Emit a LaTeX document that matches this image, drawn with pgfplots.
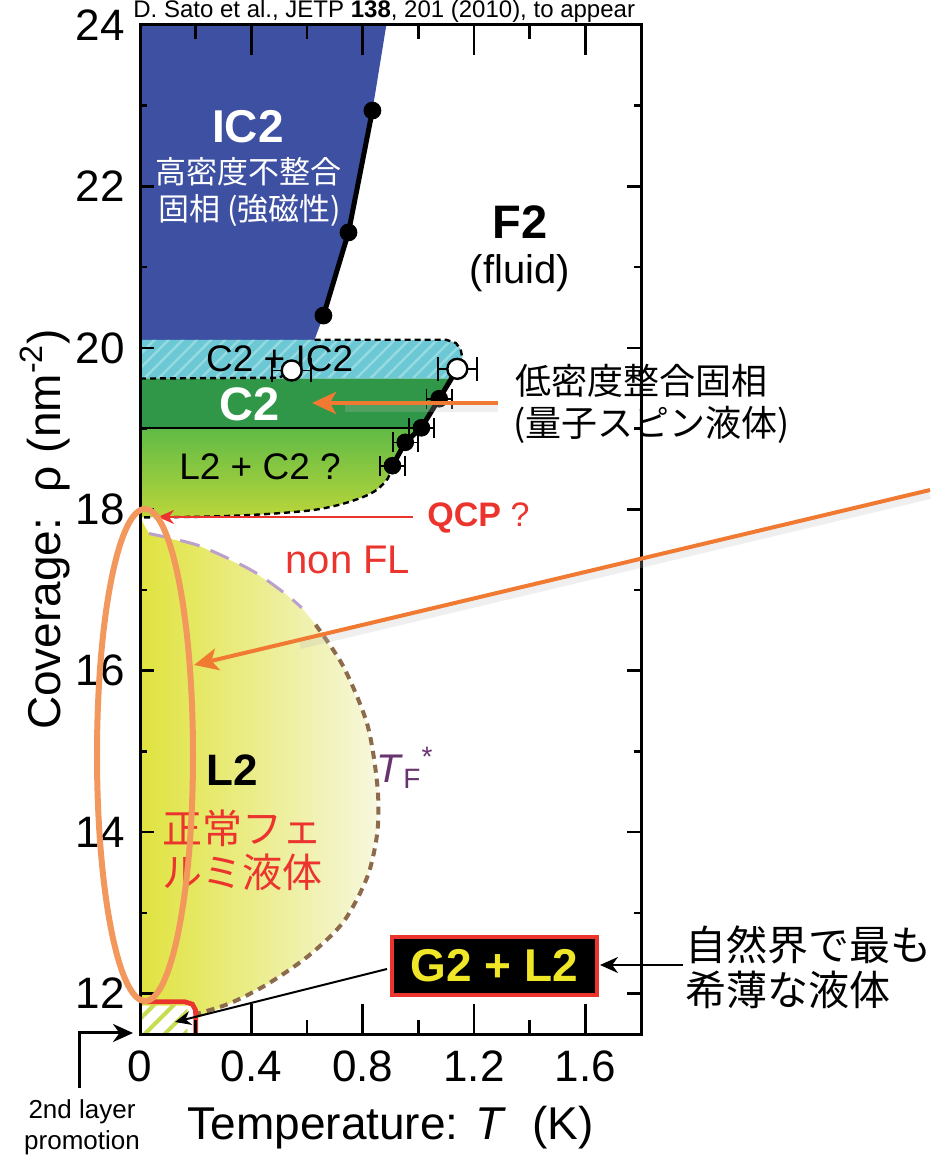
\documentclass[border=0pt]{standalone}
\usepackage{fontspec}
\setmainfont{Liberation Sans}
\newfontfamily\cjk{Noto Sans CJK JP}
\usepackage{pgfplots}
\pgfplotsset{compat=1.18}
\usetikzlibrary{arrows.meta,patterns.meta}

\definecolor{icblue}{RGB}{62,80,162}
\definecolor{cyanph}{RGB}{108,200,212}
\definecolor{cyanln}{RGB}{150,218,226}
\definecolor{ctwo}{RGB}{48,150,72}
\definecolor{lctop}{RGB}{96,186,70}
\definecolor{lcbot}{RGB}{186,214,58}
\definecolor{lyel}{RGB}{224,227,62}
\definecolor{lmid}{RGB}{236,238,150}
\definecolor{lpale}{RGB}{247,247,222}
\definecolor{hatch}{RGB}{200,220,80}
\definecolor{tfbrown}{RGB}{140,106,76}
\definecolor{tfpurp}{RGB}{186,160,202}
\definecolor{tfname}{RGB}{104,52,112}
\definecolor{arrorange}{RGB}{240,122,50}
\definecolor{ellorange}{RGB}{242,152,92}
\definecolor{labred}{RGB}{236,52,46}
\definecolor{gyel}{RGB}{240,230,40}

\newcommand{\fs}[1]{\fontsize{#1}{#1}\selectfont}

\pgfplotsset{
  frame/.style={
    scale only axis, width=250.5pt, height=504.5pt,
    xmin=0, xmax=1.8, ymin=11.5, ymax=24,
    tick align=inside,
    every tick/.style={black, line width=1.3pt},
    /pgf/number format/assume math mode=true,
    ticklabel style={font=\fs{22pt}},
    label style={font=\fs{23pt}},
  },
}

\begin{document}
\begin{tikzpicture}
% main axis: regions, x ticks and x label
\begin{axis}[
  frame,
  xtick={0,0.4,0.8,1.2,1.6}, ytick=\empty,
  minor x tick num=1,
  major tick length=15pt, minor tick length=7pt,
  axis line style={line width=1.5pt},
  axis on top,
  xticklabel style={yshift=-5pt},
  xlabel={Temperature: \textit{T}\ \ (K)},
  xlabel style={at={(axis description cs:0.5,-0.093)}, anchor=center},
]
\coordinate (O) at (rel axis cs:0,0);

% IC2
\addplot[draw=none, fill=icblue] coordinates {(0,20.10) (0.627,20.10) (0.659,20.40) (0.749,21.43) (0.835,22.94) (0.885,24.0) (0,24.0)} --cycle;
% C2 + IC2
\addplot[draw=none, fill=cyanph] coordinates {(0,20.10) (1.10,20.10) (1.135,20.06) (1.152,19.98) (1.158,19.88) (1.14,19.74) (1.115,19.62) (0,19.62)} --cycle;
\addplot[draw=none, pattern={Lines[angle=45,distance=5pt,line width=1.2pt]}, pattern color=cyanln] coordinates {(0,20.10) (1.10,20.10) (1.135,20.06) (1.152,19.98) (1.158,19.88) (1.14,19.74) (1.115,19.62) (0,19.62)} --cycle;
% C2
\addplot[draw=none, fill=ctwo] coordinates {(0,19.62) (1.115,19.62) (1.075,19.37) (1.011,19.01) (0,19.01)} --cycle;
% L2 + C2
\addplot[draw=none, top color=lctop, bottom color=lcbot] coordinates {(0,19.01) (1.011,19.01) (0.953,18.83) (0.907,18.54) (0.89,18.38) (0.85,18.24) (0.80,18.15) (0.72,18.06) (0.62,17.99) (0.45,17.94) (0.25,17.91) (0,17.90)} --cycle;
% L2
\addplot[draw=none, left color=lyel, middle color=lmid, right color=lpale] coordinates {(0,17.90) (0.032,17.70) (0.211,17.55) (0.398,17.25) (0.52,16.96) (0.581,16.78) (0.631,16.57) (0.731,16.05) (0.817,15.33) (0.853,14.57) (0.853,14.01) (0.817,13.45) (0.731,12.89) (0.606,12.47) (0.459,12.12) (0.323,11.88) (0.211,11.70) (0.18,11.85) (0,11.85)} --cycle;
% G2 + L2
\addplot[draw=none, fill=white] coordinates {(0,11.5) (0.17,11.5) (0.17,11.85) (0,11.85)} --cycle;
\addplot[draw=none, pattern={Lines[angle=45,distance=7pt,line width=2pt]}, pattern color=hatch] coordinates {(0,11.5) (0.17,11.5) (0.17,11.85) (0,11.85)} --cycle;

% boundaries
\addplot[tfpurp, line width=1.5pt, dash pattern=on 10pt off 6pt, smooth] coordinates {(0.032,17.70) (0.211,17.55) (0.398,17.25) (0.52,16.96) (0.581,16.78)};
\addplot[tfbrown, line width=2pt, dash pattern=on 4pt off 3pt, smooth] coordinates {(0.631,16.57) (0.731,16.05) (0.817,15.33) (0.853,14.57) (0.853,14.01) (0.817,13.45) (0.731,12.89) (0.606,12.47) (0.459,12.12) (0.323,11.88) (0.204,11.75)};
\addplot[black, line width=1.2pt, dash pattern=on 3pt off 2pt] coordinates {(0.627,20.10) (1.10,20.10) (1.135,20.06) (1.152,19.98) (1.158,19.88) (1.14,19.74)};
\addplot[black, line width=1.2pt, dash pattern=on 3pt off 2pt] coordinates {(0,19.62) (0.50,19.63) (0.545,19.72)};
\addplot[black, line width=1.2pt, dash pattern=on 3pt off 2pt, smooth] coordinates {(0.907,18.54) (0.89,18.38) (0.85,18.24) (0.80,18.15) (0.72,18.06) (0.62,17.99) (0.45,17.94) (0.25,17.91) (0,17.90)};
\addplot[black, line width=1.2pt] coordinates {(0,19.01) (1.011,19.01)};
\addplot[labred, line width=2.4pt] coordinates {(0.005,11.90) (0.16,11.90) (0.188,11.87) (0.199,11.80) (0.2,11.75) (0.2,11.45)};

\node[font=\fs{18.5pt}] at (axis cs:0.502,19.87) {C2 + IC2};

% data points
\addplot[black, line width=2.5pt, mark=*, mark size=4.2pt, mark options={line width=0.5pt, fill=black}] coordinates {(0.659,20.40) (0.749,21.43) (0.835,22.94)};
\addplot[black, line width=2.5pt] coordinates {(1.140,19.74) (1.075,19.37) (1.011,19.01) (0.953,18.83) (0.907,18.54)};
\addplot[black, only marks, mark=*, mark size=4.2pt,
  error bars/.cd, x dir=both, x explicit,
  error bar style={line width=0.8pt},
  error mark options={rotate=90, mark size=5pt, line width=0.8pt}]
  coordinates {(1.075,19.37) +- (0.045,0) (1.011,19.01) +- (0.045,0) (0.953,18.83) +- (0.045,0) (0.907,18.54) +- (0.045,0)};
\addplot[black, only marks, mark=*, mark size=5pt, mark options={fill=white, draw=black, line width=1.2pt},
  error bars/.cd, x dir=both, x explicit,
  error bar style={line width=0.8pt},
  error mark options={rotate=90, mark size=6pt, line width=0.8pt}]
  coordinates {(1.140,19.74) +- (0.07,0) (0.545,19.72) +- (0.07,0)};
\end{axis}

% second axis over the first: shorter y ticks and the y label
\begin{axis}[
  frame,
  xtick=\empty, ytick={12,14,16,18,20,22,24},
  minor y tick num=1,
  major tick length=7pt, minor tick length=3.5pt,
  axis line style={draw=none},
  yticklabel style={xshift=-4pt},
  ylabel={Coverage:\ \ ρ (nm\textsuperscript{-2})},
  ylabel style={at={(axis description cs:-0.19,0.5)}, anchor=center},
]
\end{axis}

\begin{scope}[shift={(O)}]
\begin{scope}[x=0.5pt, y=-0.5pt, shift={(-70pt,517pt)}]
  % title
  \node[anchor=base west, inner sep=0pt, font=\fs{12pt}] at (133,18) {D. Sato et al., JETP \textbf{138}, 201 (2010), to appear};

  % labels inside
  \node[white, font=\bfseries\fs{23pt}] at (248,127) {IC2};
  \node[white, font=\cjk\fs{15.5pt}] at (248,172) {高密度不整合};
  \node[white, font=\cjk\fs{15.5pt}] at (250,210) {固相 (強磁性)};
  \node[font=\bfseries\fs{23.5pt}] at (520,222) {F2};
  \node[font=\fs{20pt}] at (520,273) {(fluid)};
  \node[white, font=\bfseries\fs{23.5pt}] at (250,404) {C2};
  \node[font=\fs{18.5pt}] at (260,467) {L2 + C2 ?};
  \node[font=\bfseries\fs{22pt}] at (232,770) {L2};
  \node[labred, anchor=west, inner sep=0pt, font=\cjk\fs{20pt}] at (162,828) {正常フェ};
  \node[labred, anchor=west, inner sep=0pt, font=\cjk\fs{20pt}] at (162,872) {ルミ液体};
  \node[labred, font=\fs{20pt}] at (348,560) {non FL};
  \node[tfname, font=\fs{20pt}] at (405,768) {\textit{T}\textsubscript{F}\textsuperscript{*}};
  \node[labred, anchor=west, inner sep=0pt, font=\fs{17pt}] at (427,518) {\textbf{QCP} ?};

  % right-hand notes
  \node[anchor=west, inner sep=0pt, font=\cjk\fs{18pt}] at (515,381) {低密度整合固相};
  \node[anchor=west, inner sep=0pt, font=\cjk\fs{18pt}] at (513,425) {(量子スピン液体)};
  \node[anchor=west, inner sep=0pt, font=\cjk\fs{20.5pt}] at (685,945) {自然界で最も};
  \node[anchor=west, inner sep=0pt, font=\cjk\fs{20.5pt}] at (685,990) {希薄な液体};

  % G2 + L2 box
  \draw[labred, line width=2pt, fill=black] (392,937) rectangle (597,995);
  \node[gyel, font=\bfseries\fs{23pt}] at (494,966) {G2 + L2};
  \draw[black, line width=1.2pt, -{Stealth[length=9pt,width=8pt]}] (683,965) -- (600,965);
  \draw[black, line width=1pt, -{Stealth[length=8pt,width=7pt]}] (387,969) -- (175,1022);

  % QCP arrow
  \draw[labred, line width=1pt, -{Stealth[length=8pt,width=7pt]}] (413,517) -- (158,517);

  % orange arrows with soft shadow
  \draw[black!25, opacity=0.25, line width=4pt] (930,495) -- (300,645);
  \draw[arrorange, line width=2pt, -{Stealth[length=12pt,width=11pt,inset=3pt]}] (930,490) -- (194,665);
  \draw[black!25, opacity=0.25, line width=4pt] (498,408) -- (345,408);
  \draw[arrorange, line width=2pt, -{Stealth[length=12pt,width=11pt,inset=3pt]}] (498,403) -- (312,403);

  % orange ellipse
  \draw[ellorange, line width=3pt] (145,755) ellipse [x radius=24pt, y radius=123pt];

  % 2nd layer promotion
  \draw[black, line width=1.5pt, -{Stealth[length=10pt,width=9pt]}] (80,1088) -- (80,1033) -- (133,1033);
  \node[font=\fs{13pt}] at (82,1112) {2nd layer};
  \node[font=\fs{13pt}] at (82,1143) {promotion};

  \pgfresetboundingbox
  \path[use as bounding box] (0,0) rectangle (930,1159);
\end{scope}
\end{scope}
\end{tikzpicture}
\end{document}
